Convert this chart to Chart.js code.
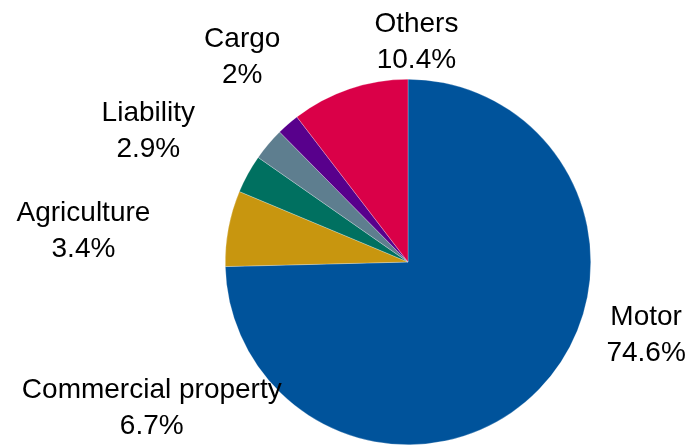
<!DOCTYPE html>
<html>
<head>
<meta charset="utf-8">
<script src="https://cdn.jsdelivr.net/npm/chart.js@4"></script>
<style>
  html, body { margin: 0; padding: 0; background: #fff; }
  #wrap { width: 690px; height: 445px; }
</style>
</head>
<body>
<div id="wrap"><canvas id="pieChart"></canvas></div>
<script>
const categories = ['Motor', 'Commercial property', 'Agriculture', 'Liability', 'Cargo', 'Others'];
const shares = [74.6, 6.7, 3.4, 2.9, 2, 10.4];
const sliceColors = ['#00539B', '#C8960F', '#007060', '#5E7E8F', '#58008C', '#DA0048'];

// label anchor relative to pie centre, in units of radius (Excel-style placement)
const labelOffsets = [[1.303, 0.445], [-1.402, 0.842], [-1.776, -0.126], [-1.421, -0.675], [-0.907, -1.077], [0.046, -1.158]];

const outsideLabels = {
    id: 'outsideLabels',
    afterDraw(chart) {
        const arc = chart.getDatasetMeta(0).data[0];
        if (!arc) return;
        const { x, y, outerRadius } = arc;
        const ctx = chart.ctx;
        ctx.save();
        ctx.fillStyle = '#000';
        ctx.font = '28px "Liberation Sans", Arial, sans-serif';
        ctx.textAlign = 'center';
        ctx.textBaseline = 'alphabetic';
        categories.forEach((name, i) => {
            const lx = x + labelOffsets[i][0] * outerRadius;
            const ly = y + labelOffsets[i][1] * outerRadius;
            ctx.fillText(name, lx, ly - 18);
            ctx.fillText(shares[i] + '%', lx, ly + 18);
        });
        ctx.restore();
    }
};

new Chart(document.getElementById('pieChart'), {
    type: 'pie',
    data: {
        labels: categories,
        datasets: [{
            data: shares,
            backgroundColor: sliceColors,
            borderColor: 'rgba(255,255,255,0.5)',
            borderWidth: 0.5
        }]
    },
    options: {
        responsive: true,
        maintainAspectRatio: false,
        animation: false,
        layout: { padding: { left: 225, right: 99, top: 79, bottom: 0 } },
        plugins: {
            legend: { display: false },
            tooltip: { enabled: false }
        }
    },
    plugins: [outsideLabels]
});
</script>
</body>
</html>
